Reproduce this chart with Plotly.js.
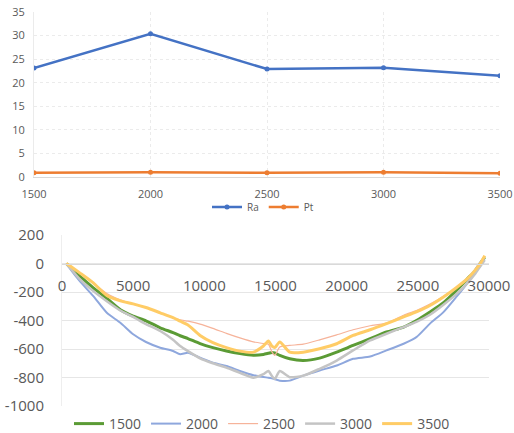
<!DOCTYPE html>
<html><head><meta charset="utf-8">
<script src="https://cdn.plot.ly/plotly-3.0.1.min.js"></script>
<style>html,body{margin:0;padding:0;background:#fff;}#c{width:514px;height:433px;}</style>
</head><body><div id="c"></div>
<script>
// Top chart
var speeds = [1500, 2000, 2500, 3000, 3500];
var ra = [23.1, 30.4, 22.9, 23.2, 21.5];
var pt = [0.9, 1.0, 0.9, 1.0, 0.8];

// Bottom chart (profile)
var pos = [300, 600, 1250, 2200, 3150, 4100, 5000, 5900, 6900, 7800, 8300, 8850, 9700, 10600, 11550, 12500, 13450, 14150, 14500, 14750, 14950, 15300, 16000, 16950, 18100, 19300, 20450, 21650, 22800, 24000, 24900, 25850, 26800, 27700, 28450, 29000, 29450, 29700];
var p1500 = [0, -30, -89, -171, -245, -325, -370, -402, -451, -485, -507, -527, -562, -590, -614, -632, -643, -638, -630, -624, -628, -645, -669, -681, -664, -622, -575, -528, -481, -446, -400, -340, -275, -190, -110, -55, 10, 45];
var p2000 = [0, -42, -124, -229, -346, -416, -497, -551, -591, -614, -637, -626, -661, -696, -719, -754, -784, -797, -801, -806, -812, -822, -822, -787, -751, -716, -669, -653, -610, -563, -517, -422, -341, -235, -141, -47, 15, 35];
var p2500 = [0, -25, -70, -140, -210, -255, -285, -310, -346, -381, -395, -405, -425, -455, -490, -522, -550, -562, -567, -620, -645, -586, -575, -566, -536, -501, -465, -437, -418, -363, -330, -285, -230, -170, -110, -50, 10, 45];
var p3000 = [0, -35, -110, -194, -265, -330, -375, -425, -474, -535, -579, -615, -665, -700, -731, -767, -801, -777, -754, -790, -810, -755, -798, -787, -739, -681, -610, -540, -493, -446, -410, -360, -290, -215, -141, -75, -10, 25];
var p3500 = [0, -20, -66, -136, -225, -262, -283, -309, -346, -380, -405, -432, -505, -555, -590, -615, -622, -579, -544, -580, -590, -550, -622, -622, -598, -563, -505, -465, -422, -375, -340, -295, -235, -170, -110, -50, 10, 55];

var yTicks = [200, 0, -200, -400, -600, -800, -1000];
var xTicks = [0, 5000, 10000, 15000, 20000, 25000, 30000];

var W = 514, H = 433;
function fx(p){return p/W;}
function fy(p){return 1 - p/H;}
function lab(v){return String(v);} // plain hyphen-minus like the reference

var txt = '#595959';
var traces = [
  {x: speeds, y: ra, name: 'Ra', type: 'scatter', mode: 'lines+markers', xaxis: 'x', yaxis: 'y',
   line: {color: '#4472c4', width: 2.5}, marker: {size: 5, color: '#4472c4'}, legend: 'legend'},
  {x: speeds, y: pt, name: 'Pt', type: 'scatter', mode: 'lines+markers', xaxis: 'x', yaxis: 'y',
   line: {color: '#ed7d31', width: 2.5}, marker: {size: 5, color: '#ed7d31'}, legend: 'legend'},
  {x: pos, y: p1500, name: '1500', type: 'scatter', mode: 'lines', xaxis: 'x2', yaxis: 'y2',
   line: {color: '#5b9b35', width: 3, shape: 'spline', smoothing: 0.6}, legend: 'legend2'},
  {x: pos, y: p2000, name: '2000', type: 'scatter', mode: 'lines', xaxis: 'x2', yaxis: 'y2',
   line: {color: '#8ea7dd', width: 2, shape: 'spline', smoothing: 0.6}, legend: 'legend2'},
  {x: pos, y: p2500, name: '2500', type: 'scatter', mode: 'lines', xaxis: 'x2', yaxis: 'y2',
   line: {color: '#f6b39a', width: 1.2, shape: 'spline', smoothing: 0.6}, legend: 'legend2'},
  {x: pos, y: p3000, name: '3000', type: 'scatter', mode: 'lines', xaxis: 'x2', yaxis: 'y2',
   line: {color: '#c4c4c4', width: 2.5, shape: 'spline', smoothing: 0.6}, legend: 'legend2'},
  {x: pos, y: p3500, name: '3500', type: 'scatter', mode: 'lines', xaxis: 'x2', yaxis: 'y2',
   line: {color: '#ffcc66', width: 3, shape: 'spline', smoothing: 0.6}, legend: 'legend2'}
];

var layout = {
  width: W, height: H,
  margin: {l: 0, r: 0, t: 0, b: 0, autoexpand: false},
  paper_bgcolor: '#fff', plot_bgcolor: '#fff',
  font: {family: 'Open Sans, sans-serif', color: txt},
  xaxis: {domain: [fx(34), fx(500)], range: [1500, 3500], tickvals: speeds, ticktext: speeds.map(String),
    showgrid: true, gridcolor: '#ebebeb', griddash: 'dot', zeroline: false, showline: true, linecolor: '#d9d9d9',
    tickfont: {size: 11, color: txt}, anchor: 'y', ticks: '', ticklabelstandoff: 7, automargin: false},
  yaxis: {domain: [fy(177), fy(12)], range: [0, 35], dtick: 5, showgrid: true, gridcolor: '#ebebeb', griddash: 'dot',
    zeroline: false, showline: true, linecolor: '#ebebeb', linewidth: 1,
    tickfont: {size: 11, color: txt}, anchor: 'x', ticks: '', ticklabelstandoff: 6, automargin: false},
  xaxis2: {domain: [fx(62), fx(489)], range: [0, 30000], tickvals: xTicks, ticktext: xTicks.map(lab),
    showgrid: false, zeroline: false, automargin: false,
    showline: true, linecolor: '#d9d9d9', anchor: 'free', position: fy(263.5), ticks: '',
    tickfont: {size: 15, color: txt}, ticklabelstandoff: 8},
  yaxis2: {domain: [fy(406), fy(235)], range: [-1000, 200], tickvals: yTicks, ticktext: yTicks.map(lab),
    showgrid: true, gridcolor: '#e6e6e6', automargin: false,
    zeroline: false, showline: true, linecolor: '#eeeeee', anchor: 'x2', ticks: '',
    tickfont: {size: 15, color: txt}, ticklabelstandoff: 14},
  legend: {orientation: 'h', x: fx(263), xanchor: 'center', y: fy(207), yanchor: 'middle',
    font: {size: 10, color: txt}, itemwidth: 30, bgcolor: 'rgba(0,0,0,0)'},
  legend2: {orientation: 'h', x: fx(262), xanchor: 'center', y: fy(424), yanchor: 'middle',
    font: {size: 14, color: txt}, itemwidth: 30, bgcolor: 'rgba(0,0,0,0)'},
  showlegend: true
};

Plotly.newPlot('c', traces, layout, {staticPlot: true, displayModeBar: false});
</script></body></html>
